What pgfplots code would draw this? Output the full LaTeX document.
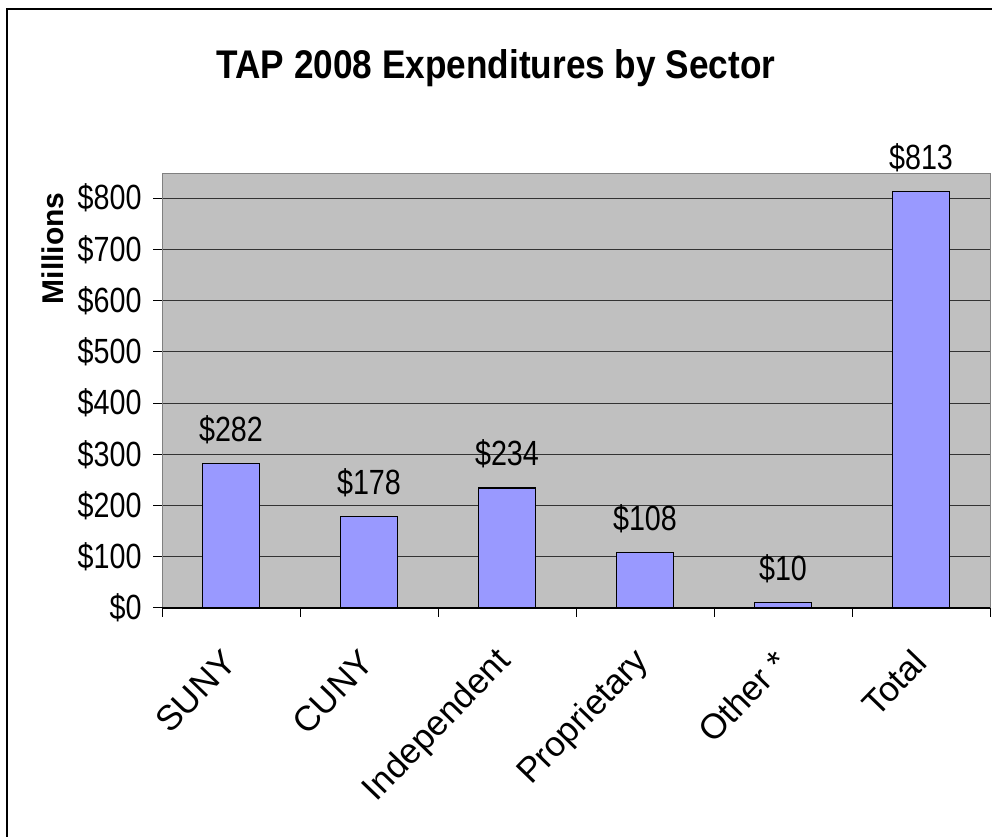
\documentclass[border=0pt]{standalone}
\usepackage{fontspec}
\setmainfont{Liberation Sans}
\usepackage{graphicx}
\usepackage{pgfplots}
\pgfplotsset{compat=1.18}
\definecolor{plotbg}{HTML}{C0C0C0}
\definecolor{barfill}{HTML}{9999FF}
\newcommand\sq[1]{\scalebox{0.82}[1]{#1}}
\newcommand\bigfont{\fontsize{35bp}{40bp}\selectfont}

\begin{document}
\begin{tikzpicture}[x=1bp, y=1bp]
  \useasboundingbox (0,0) rectangle (992,837);
  \begin{axis}[
      at={(162bp,229bp)}, anchor=south west,
      width=828bp, height=434bp, scale only axis,
      xmin=-0.5, xmax=5.5, ymin=0, ymax=847,
      /pgf/number format/assume math mode=true,
      axis background/.style={fill=plotbg},
      axis line style={draw=black!50, line width=1bp},
      ytick={0,100,...,800},
      ymajorgrids,
      grid style={black!80, line width=1bp},
      tick align=outside,
      tick pos=left,
      major tick length=9bp,
      tick style={black, line width=1bp},
      xtick={-0.5,0.5,...,5.5}, xticklabels={},
      extra x ticks={0,1,2,3,4,5},
      extra x tick labels={SUNY,CUNY,Independent,Proprietary,Other *,Total},
      extra x tick style={major tick length=0pt, grid=none,
        tick label style={xshift=1bp, yshift=-46bp, rotate=46, anchor=east, font=\bigfont}},
      yticklabel={\sq{\$\pgfmathprintnumber{\tick}}},
      yticklabel style={font=\bigfont, xshift=-8bp},
      ybar, bar width=57bp, bar shift=0pt,
      nodes near coords={\sq{\$\pgfmathprintnumber{\pgfplotspointmeta}}},
      nodes near coords style={font=\bigfont, yshift=16bp},
      clip=false,
    ]
    \addplot[fill=barfill, draw=black, line width=1.2bp] coordinates {
      (0,282) (1,178) (2,234) (3,108) (4,10) (5,813)
    };
    \draw[black, line width=1.2bp] (axis cs:-0.5,0) -- (axis cs:5.5,0);
  \end{axis}
  \node[anchor=base, font=\fontsize{40bp}{44bp}\selectfont\bfseries] at (496,758)
    {\scalebox{0.88}[1]{TAP 2008 Expenditures by Sector}};
  \node[rotate=90, anchor=base, font=\fontsize{30bp}{34bp}\selectfont\bfseries] at (63,588.5) {Millions};
  \draw[line width=1.7bp] (7,-20) -- (7,828) -- (1010,828);
\end{tikzpicture}
\end{document}
